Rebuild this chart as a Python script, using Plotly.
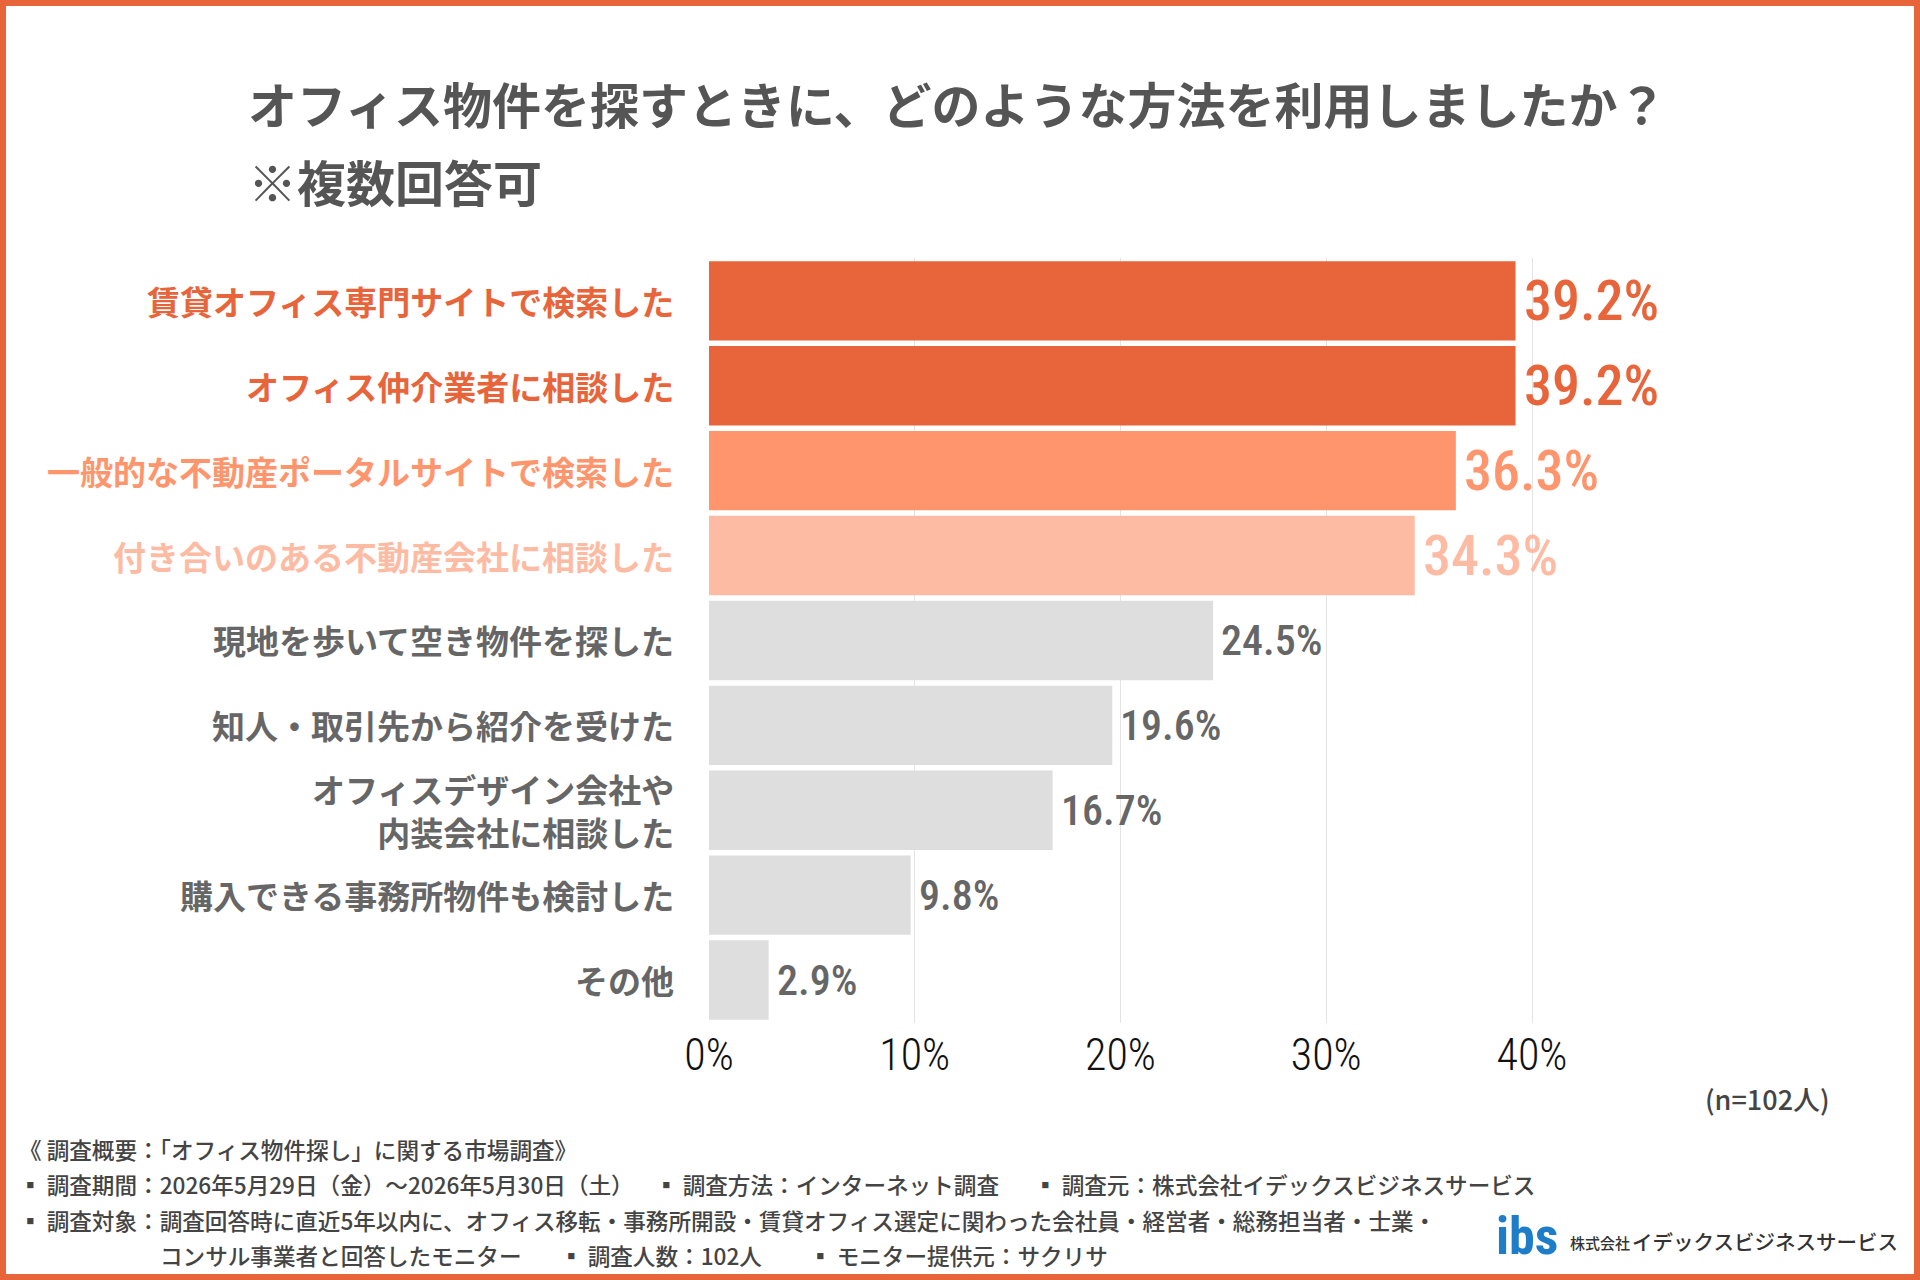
import plotly.graph_objects as go

W, H = 1920, 1280

categories = [
    "賃貸オフィス専門サイトで検索した",
    "オフィス仲介業者に相談した",
    "一般的な不動産ポータルサイトで検索した",
    "付き合いのある不動産会社に相談した",
    "現地を歩いて空き物件を探した",
    "知人・取引先から紹介を受けた",
    "オフィスデザイン会社や<br>内装会社に相談した",
    "購入できる事務所物件も検討した",
    "その他",
]
values = [39.2, 39.2, 36.3, 34.3, 24.5, 19.6, 16.7, 9.8, 2.9]
bar_colors = ["#E8643A", "#E8643A", "#FF956D", "#FDBBA4",
              "#DEDEDE", "#DEDEDE", "#DEDEDE", "#DEDEDE", "#DEDEDE"]
label_colors = ["#E8643A", "#E8643A", "#FF956D", "#FDBBA4",
                "#666666", "#666666", "#666666", "#666666", "#666666"]
highlight = [True, True, True, True, False, False, False, False, False]

tick_vals = [0, 10, 20, 30, 40]
tick_text = ["0%", "10%", "20%", "30%", "40%"]

title_line1 = "オフィス物件を探すときに、どのような方法を利用しましたか？"
title_line2 = "※複数回答可"
n_note = "(n=102人)"

footer_rows = [
    [("《 調査概要：「オフィス物件探し」に関する市場調査》", 17)],
    [("▪ 調査期間：2026年5月29日（金）～2026年5月30日（土）", 17),
     ("▪ 調査方法：インターネット調査", 653),
     ("▪ 調査元：株式会社イデックスビジネスサービス", 1032)],
    [("▪ 調査対象：調査回答時に直近5年以内に、オフィス移転・事務所開設・賃貸オフィス選定に関わった会社員・経営者・総務担当者・士業・", 17)],
    [("コンサル事業者と回答したモニター", 158),
     ("▪ 調査人数：102人", 558),
     ("▪ モニター提供元：サクリサ", 807)],
]
footer_y = [1149, 1184, 1220, 1255]

logo_mark = "ibs"
company_prefix = "株式会社"
company_name = "イデックスビジネスサービス"

JP = "Noto Sans CJK JP"
NUM = "Roboto Condensed, Roboto, sans-serif"

x0_px, x40_px = 709, 1532
px_per = (x40_px - x0_px) / 40.0
xmax = 40.5
y_top_px, y_bot_px = 258.4, 1022.5

fig = go.Figure()
fig.add_trace(go.Bar(
    x=values, y=categories, orientation="h",
    marker=dict(color=bar_colors, line=dict(width=0)),
    hoverinfo="skip",
))

annotations = []
for c, col in zip(categories, label_colors):
    annotations.append(dict(
        x=0, y=c, xref="x", yref="y", text=c, showarrow=False,
        xanchor="right", yanchor="middle", align="right", xshift=-33,
        font=dict(family=JP, size=33, color=col, weight="bold"),
    ))
for c, v, col, hl in zip(categories, values, label_colors, highlight):
    annotations.append(dict(
        x=v, y=c, xref="x", yref="y", text=f"{v}%", showarrow=False,
        xanchor="left", yanchor="middle", xshift=6,
        font=dict(family=NUM, size=56 if hl else 42, color=col, weight=500),
    ))
annotations.append(dict(x=246 / W, y=1 - 103 / H, xref="paper", yref="paper",
                        text=title_line1, showarrow=False, xanchor="left", yanchor="middle",
                        font=dict(family=JP, size=49, color="#555555", weight="bold")))
annotations.append(dict(x=246 / W, y=1 - 180 / H, xref="paper", yref="paper",
                        text=title_line2, showarrow=False, xanchor="left", yanchor="middle",
                        font=dict(family=JP, size=49, color="#555555", weight="bold")))
annotations.append(dict(x=1832 / W, y=1 - 1098 / H, xref="paper", yref="paper",
                        text=n_note, showarrow=False, xanchor="right", yanchor="middle",
                        font=dict(family=JP, size=27, color="#444444", weight=500)))
for row, yy in zip(footer_rows, footer_y):
    for txt, xx in row:
        annotations.append(dict(x=xx / W, y=1 - yy / H, xref="paper", yref="paper",
                                text=txt, showarrow=False, xanchor="left", yanchor="middle",
                                font=dict(family=JP, size=22.6, color="#444444", weight=500)))
# logo
annotations.append(dict(x=1494 / W, y=1 - 1236 / H, xref="paper", yref="paper",
                        text=logo_mark, showarrow=False, xanchor="left", yanchor="middle",
                        font=dict(family=NUM, size=52, color="#1E7DC8", weight="bold")))
annotations.append(dict(x=1568 / W, y=1 - 1242 / H, xref="paper", yref="paper",
                        text=company_prefix, showarrow=False, xanchor="left", yanchor="middle",
                        font=dict(family=JP, size=15, color="#333333", weight=500)))
annotations.append(dict(x=1630 / W, y=1 - 1241 / H, xref="paper", yref="paper",
                        text=company_name, showarrow=False, xanchor="left", yanchor="middle",
                        font=dict(family=JP, size=20.5, color="#333333", weight=500)))

fig.update_layout(
    width=W, height=H, autosize=False,
    margin=dict(l=0, r=0, t=0, b=0, pad=0, autoexpand=False),
    paper_bgcolor="white", plot_bgcolor="white",
    bargap=0.065,
    showlegend=False,
    xaxis=dict(
        domain=[x0_px / W, (x0_px + xmax * px_per) / W],
        range=[0, xmax], automargin=False,
        tickvals=tick_vals, ticktext=tick_text,
        showgrid=True, gridcolor="#E4E4E4", gridwidth=1,
        zeroline=False, showline=False,
        ticks="", ticklabelstandoff=2,
        tickfont=dict(family=NUM, size=44, color="#111111", weight=300),
        fixedrange=True,
    ),
    yaxis=dict(
        domain=[1 - y_bot_px / H, 1 - y_top_px / H],
        categoryorder="array", categoryarray=categories,
        autorange="reversed", automargin=False,
        showticklabels=False, showgrid=False, zeroline=False, showline=False,
        fixedrange=True,
    ),
    annotations=annotations,
    shapes=[dict(type="rect", xref="paper", yref="paper", x0=0, y0=0, x1=1, y1=1,
                 line=dict(color="#E8643A", width=12), fillcolor="rgba(0,0,0,0)", layer="above")],
)

fig.write_html("out.html", config={"responsive": False, "displayModeBar": False})
